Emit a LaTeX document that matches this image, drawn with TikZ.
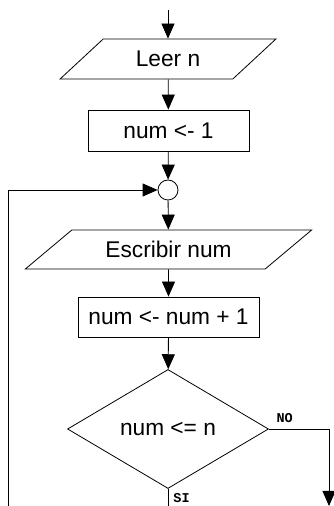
\documentclass[tikz,border=0pt]{standalone}
\usepackage{fontspec}
\setmainfont{Liberation Sans}
\newfontfamily\monob{Liberation Mono}
\usetikzlibrary{shapes.geometric,arrows.meta}
\begin{document}
\begin{tikzpicture}[x=1pt,y=1pt,
  every node/.style={font=\fontsize{22.7}{26}\selectfont, inner sep=0pt},
  box/.style={draw, line width=0.8pt, rectangle},
  io/.style={draw, line width=0.8pt, trapezium, trapezium stretches=true},
  cond/.style={draw, line width=0.8pt, diamond},
  joint/.style={draw, line width=0.8pt, circle, minimum size=20pt},
  flow/.style={line width=0.8pt, -{Triangle[length=15pt,width=13pt]}},
  plain/.style={line width=0.8pt},
  lbl/.style={font=\monob\bfseries\fontsize{13.5}{13.5}\selectfont}
]
\useasboundingbox (0,0) rectangle (333,506);
\coordinate (start) at (168,496);
\node[io, trapezium left angle=36.5, trapezium right angle=143.5,
      minimum width=216pt, minimum height=40pt] (leer) at (168,447) {Leer n};
\node[box, minimum width=161pt, minimum height=41pt] (init) at (168.5,375.5) {num <- 1};
\node[joint] (j) at (168,316) {};
\node[io, trapezium left angle=28.8, trapezium right angle=151.2,
      minimum width=287pt, minimum height=39pt] (esc) at (168.5,256.5) {Escribir num};
\node[box, minimum width=181pt, minimum height=40pt] (inc) at (168.5,189) {num <- num + 1};
\node[cond, minimum width=201pt, minimum height=119pt] (dia) at (168,77) {num <= n};
\coordinate (noturn) at (329,77);
\coordinate (noend) at (329,0);
\coordinate (siend) at (168,0);
\coordinate (loopstart) at (8,0);
\coordinate (loopturn) at (8,316);
\node[lbl] (no) at (284.7,87.5) {NO};
\node[lbl] (si) at (181.5,8) {SI};

\draw[flow] (start) -- (leer);
\draw[flow] (leer) -- (init);
\draw[flow] (init) -- (j);
\draw[flow] (j) -- (esc);
\draw[flow] (esc) -- (inc);
\draw[flow] (inc) -- (dia);
\draw[flow] (dia.east) -- (noturn) -- (noend);
\draw[plain] (dia.south) -- (siend);
\draw[flow] (loopstart) -- (loopturn) -- (j);
\end{tikzpicture}
\end{document}
